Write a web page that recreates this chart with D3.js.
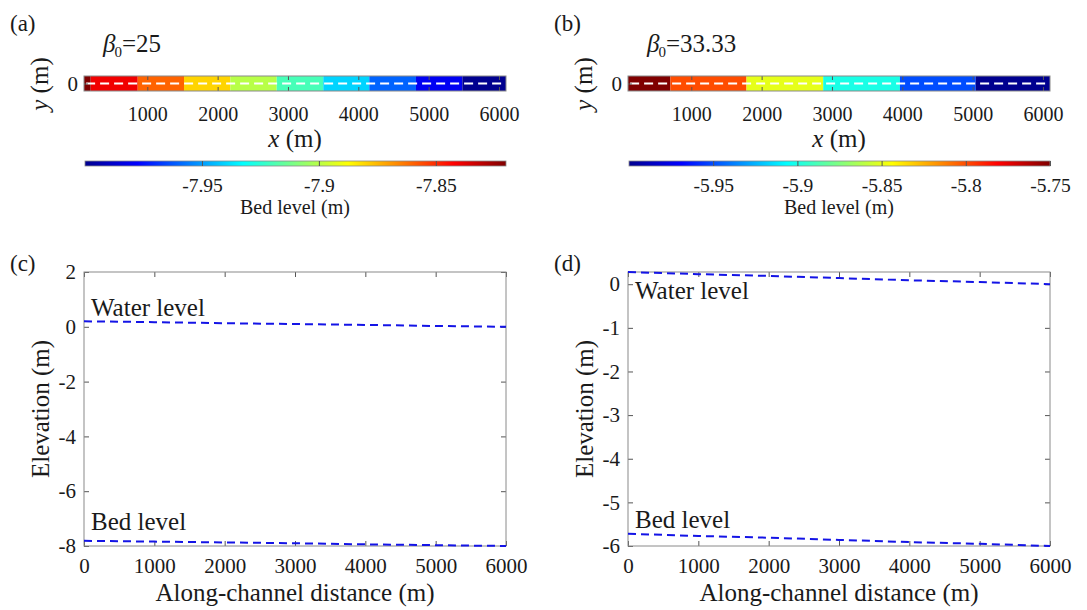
<!DOCTYPE html>
<html lang="en">
<head>
<meta charset="UTF-8">
<title>Bed level and water level along the channel</title>
<style>
  body { margin: 0; background: #fff; }
  svg, svg text { font-family: 'Liberation Serif', 'Times New Roman', serif; }
</style>
</head>
<body>
<svg id="fig" width="1087" height="610"></svg>
<script src="https://d3js.org/d3.v7.min.js"></script>
<script>
// strip maps: segment edges along x (m) and the bed level of each segment
const stripTicks = [1000, 2000, 3000, 4000, 5000, 6000];
const segEdgesA = [100, 195, 864, 1522, 2180, 2840, 3502, 4156, 4820, 5479, 6100];
const segLevelsA = [-7.82, -7.84, -7.86, -7.88, -7.90, -7.92, -7.94, -7.96, -7.98, -8.00];
const segEdgesB = [100, 703, 1785, 2875, 3966, 5043, 6100];
const segLevelsB = [-5.75, -5.80, -5.85, -5.90, -5.95, -6.00];

// colorbars
const cbarDomainA = [-8.0, -7.82];
const cbarTicksA = [-7.95, -7.9, -7.85];
const cbarDomainB = [-6.0, -5.75];
const cbarTicksB = [-5.95, -5.9, -5.85, -5.8, -5.75];

// profiles
const distance = [0, 1000, 2000, 3000, 4000, 5000, 6000];
const waterC = [0.20, 0.17, 0.13, 0.10, 0.07, 0.03, 0.00];
const bedC = [-7.81, -7.84, -7.87, -7.90, -7.94, -7.97, -8.00];
const waterD = [0.28, 0.23, 0.19, 0.14, 0.09, 0.05, 0.00];
const bedD = [-5.72, -5.77, -5.81, -5.86, -5.91, -5.95, -6.00];
const yTicksC = [2, 0, -2, -4, -6, -8];
const yTicksD = [0, -1, -2, -3, -4, -5, -6];

const svg = d3.select("#fig");
const ink = "#1a1a1a", boxCol = "#8a8a8a";

// MATLAB-like jet colormap
const jet = d3.scaleLinear()
  .domain([0, 0.125, 0.375, 0.625, 0.875, 1])
  .range(["#00008f", "#0000ff", "#00ffff", "#ffff00", "#ff0000", "#800000"])
  .interpolate(d3.interpolateRgb);

function styleAxis(g, size) {
  g.attr("font-family", null).attr("font-size", size);
  g.select(".domain").remove();
  g.selectAll(".tick line").attr("stroke", "#555");
  g.selectAll(".tick text").attr("fill", ink);
}

function label(x, y, txt, size, opts = {}) {
  const t = svg.append("text").attr("x", x).attr("y", y)
    .attr("font-size", size).attr("fill", ink).text(txt);
  if (opts.anchor) t.attr("text-anchor", opts.anchor);
  if (opts.rotate) t.attr("transform", `rotate(-90,${x},${y})`);
  return t;
}

function drawStrip(o) {
  const x = d3.scaleLinear().domain([100, 6100]).range([o.left, o.right]);
  const y = d3.scaleLinear().domain([-50, 50]).range([91, 76]);
  const c = d3.scaleLinear().domain(o.cdom).range([0, 1]);

  const segs = o.levels.map((v, i) => ({ x0: o.edges[i], x1: o.edges[i + 1], v }));
  svg.append("g").selectAll("rect").data(segs).join("rect")
    .attr("x", d => x(d.x0)).attr("width", d => x(d.x1) - x(d.x0))
    .attr("y", y(50)).attr("height", y(-50) - y(50))
    .attr("fill", d => jet(c(d.v)));

  svg.append("line")
    .attr("x1", x(130)).attr("x2", x(6100)).attr("y1", y(0)).attr("y2", y(0))
    .attr("stroke", "#fff").attr("stroke-width", 2).attr("stroke-dasharray", "9,5");

  const gx = svg.append("g").attr("transform", `translate(0,${y(-50)})`)
    .call(d3.axisBottom(x).tickValues(stripTicks).tickSize(-4).tickPadding(16).tickFormat(d3.format("d")));
  styleAxis(gx, 20);
  const gt = svg.append("g").attr("transform", `translate(0,${y(50)})`)
    .call(d3.axisTop(x).tickValues(stripTicks).tickSize(-4).tickFormat(""));
  styleAxis(gt, 20);
  const gy = svg.append("g").attr("transform", `translate(${o.left},0)`)
    .call(d3.axisLeft(y).tickValues([0]).tickSize(-4).tickPadding(6));
  styleAxis(gy, 21);

  svg.append("rect").attr("x", o.left).attr("y", y(50))
    .attr("width", o.right - o.left).attr("height", y(-50) - y(50))
    .attr("fill", "none").attr("stroke", boxCol);

  const mid = (o.left + o.right) / 2;
  // axis labels
  const xl = svg.append("text").attr("x", mid).attr("y", 147).attr("text-anchor", "middle")
    .attr("font-size", 25).attr("fill", ink);
  xl.append("tspan").attr("font-style", "italic").text("x");
  xl.append("tspan").text(" (m)");
  const yl = svg.append("text").attr("x", o.left - 45).attr("y", 84).attr("text-anchor", "middle")
    .attr("font-size", 25).attr("fill", ink)
    .attr("transform", `rotate(-90,${o.left - 45},84)`).attr("dy", "0.35em");
  yl.append("tspan").attr("font-style", "italic").text("y");
  yl.append("tspan").text(" (m)");

  // beta annotation
  const b = svg.append("text").attr("x", o.left + 19).attr("y", 52)
    .attr("font-size", 25).attr("fill", ink);
  b.append("tspan").attr("font-style", "italic").text("β");
  b.append("tspan").attr("font-size", 15).attr("dy", 5).attr("dx", -1).text("0");
  b.append("tspan").attr("dy", -5).text("=" + o.beta);

  label(o.left - 74, 31, o.tag, 23);

  // colorbar
  const cx = d3.scaleLinear().domain(o.cdom).range([o.left + 1, o.right]);
  const gid = "grad" + o.tag.replace(/\W/g, "");
  const grad = svg.append("defs").append("linearGradient").attr("id", gid);
  grad.selectAll("stop").data(d3.range(0, 1.0001, 0.025)).join("stop")
    .attr("offset", d => d).attr("stop-color", d => jet(d));
  svg.append("rect").attr("x", cx.range()[0]).attr("y", 161)
    .attr("width", cx.range()[1] - cx.range()[0]).attr("height", 5)
    .attr("fill", `url(#${gid})`).attr("stroke", boxCol).attr("stroke-width", 0.8);
  const gc = svg.append("g").attr("transform", "translate(0,166)")
    .call(d3.axisBottom(cx).tickValues(o.cticks).tickSize(-5).tickPadding(12).tickFormat(d => String(d)));
  styleAxis(gc, 19.5);
  label(mid, 214, "Bed level (m)", 20, { anchor: "middle" });
}

function drawProfile(o) {
  const x = d3.scaleLinear().domain([0, 6000]).range([o.left, o.right]);
  const y = d3.scaleLinear().domain(o.ydom).range([546, 272]);

  const gx = svg.append("g").attr("transform", "translate(0,546)")
    .call(d3.axisBottom(x).tickValues(distance).tickSize(-5).tickPadding(12).tickFormat(d3.format("d")));
  styleAxis(gx, 21);
  const gt = svg.append("g").attr("transform", "translate(0,272)")
    .call(d3.axisTop(x).tickValues(distance).tickSize(-5).tickFormat(""));
  styleAxis(gt, 21);
  const gy = svg.append("g").attr("transform", `translate(${o.left},0)`)
    .call(d3.axisLeft(y).tickValues(o.yticks).tickSize(-5).tickPadding(8).tickFormat(d => String(d)));
  styleAxis(gy, 21);
  const gr = svg.append("g").attr("transform", `translate(${o.right},0)`)
    .call(d3.axisRight(y).tickValues(o.yticks).tickSize(-5).tickFormat(""));
  styleAxis(gr, 21);

  svg.append("rect").attr("x", o.left).attr("y", 272)
    .attr("width", o.right - o.left).attr("height", 274)
    .attr("fill", "none").attr("stroke", boxCol);

  const line = d3.line().x((d, i) => x(distance[i])).y(d => y(d));
  [o.water, o.bed].forEach(s => {
    svg.append("path").datum(s).attr("d", line)
      .attr("fill", "none").attr("stroke", "#1414e6").attr("stroke-width", 2)
      .attr("stroke-dasharray", "8,5");
  });

  label(o.left + 7, o.waterY, "Water level", 25);
  label(o.left + 7, o.bedY, "Bed level", 25);
  label((o.left + o.right) / 2, 601, "Along-channel distance (m)", 25, { anchor: "middle" });
  label(o.left - 44, 409, "Elevation (m)", 25, { anchor: "middle", rotate: true }).attr("dy", "0.35em");
  label(o.left - 74, 271, o.tag, 23);
}

drawStrip({ left: 84, right: 506, edges: segEdgesA, levels: segLevelsA, cdom: cbarDomainA, cticks: cbarTicksA, beta: "25", tag: "(a)" });
drawStrip({ left: 628, right: 1050, edges: segEdgesB, levels: segLevelsB, cdom: cbarDomainB, cticks: cbarTicksB, beta: "33.33", tag: "(b)" });
drawProfile({ left: 84, right: 506, ydom: [-8, 2], yticks: yTicksC, water: waterC, bed: bedC, waterY: 316, bedY: 530, tag: "(c)" });
drawProfile({ left: 628, right: 1050, ydom: [-6, 0.28], yticks: yTicksD, water: waterD, bed: bedD, waterY: 299, bedY: 528, tag: "(d)" });
</script>
</body>
</html>
